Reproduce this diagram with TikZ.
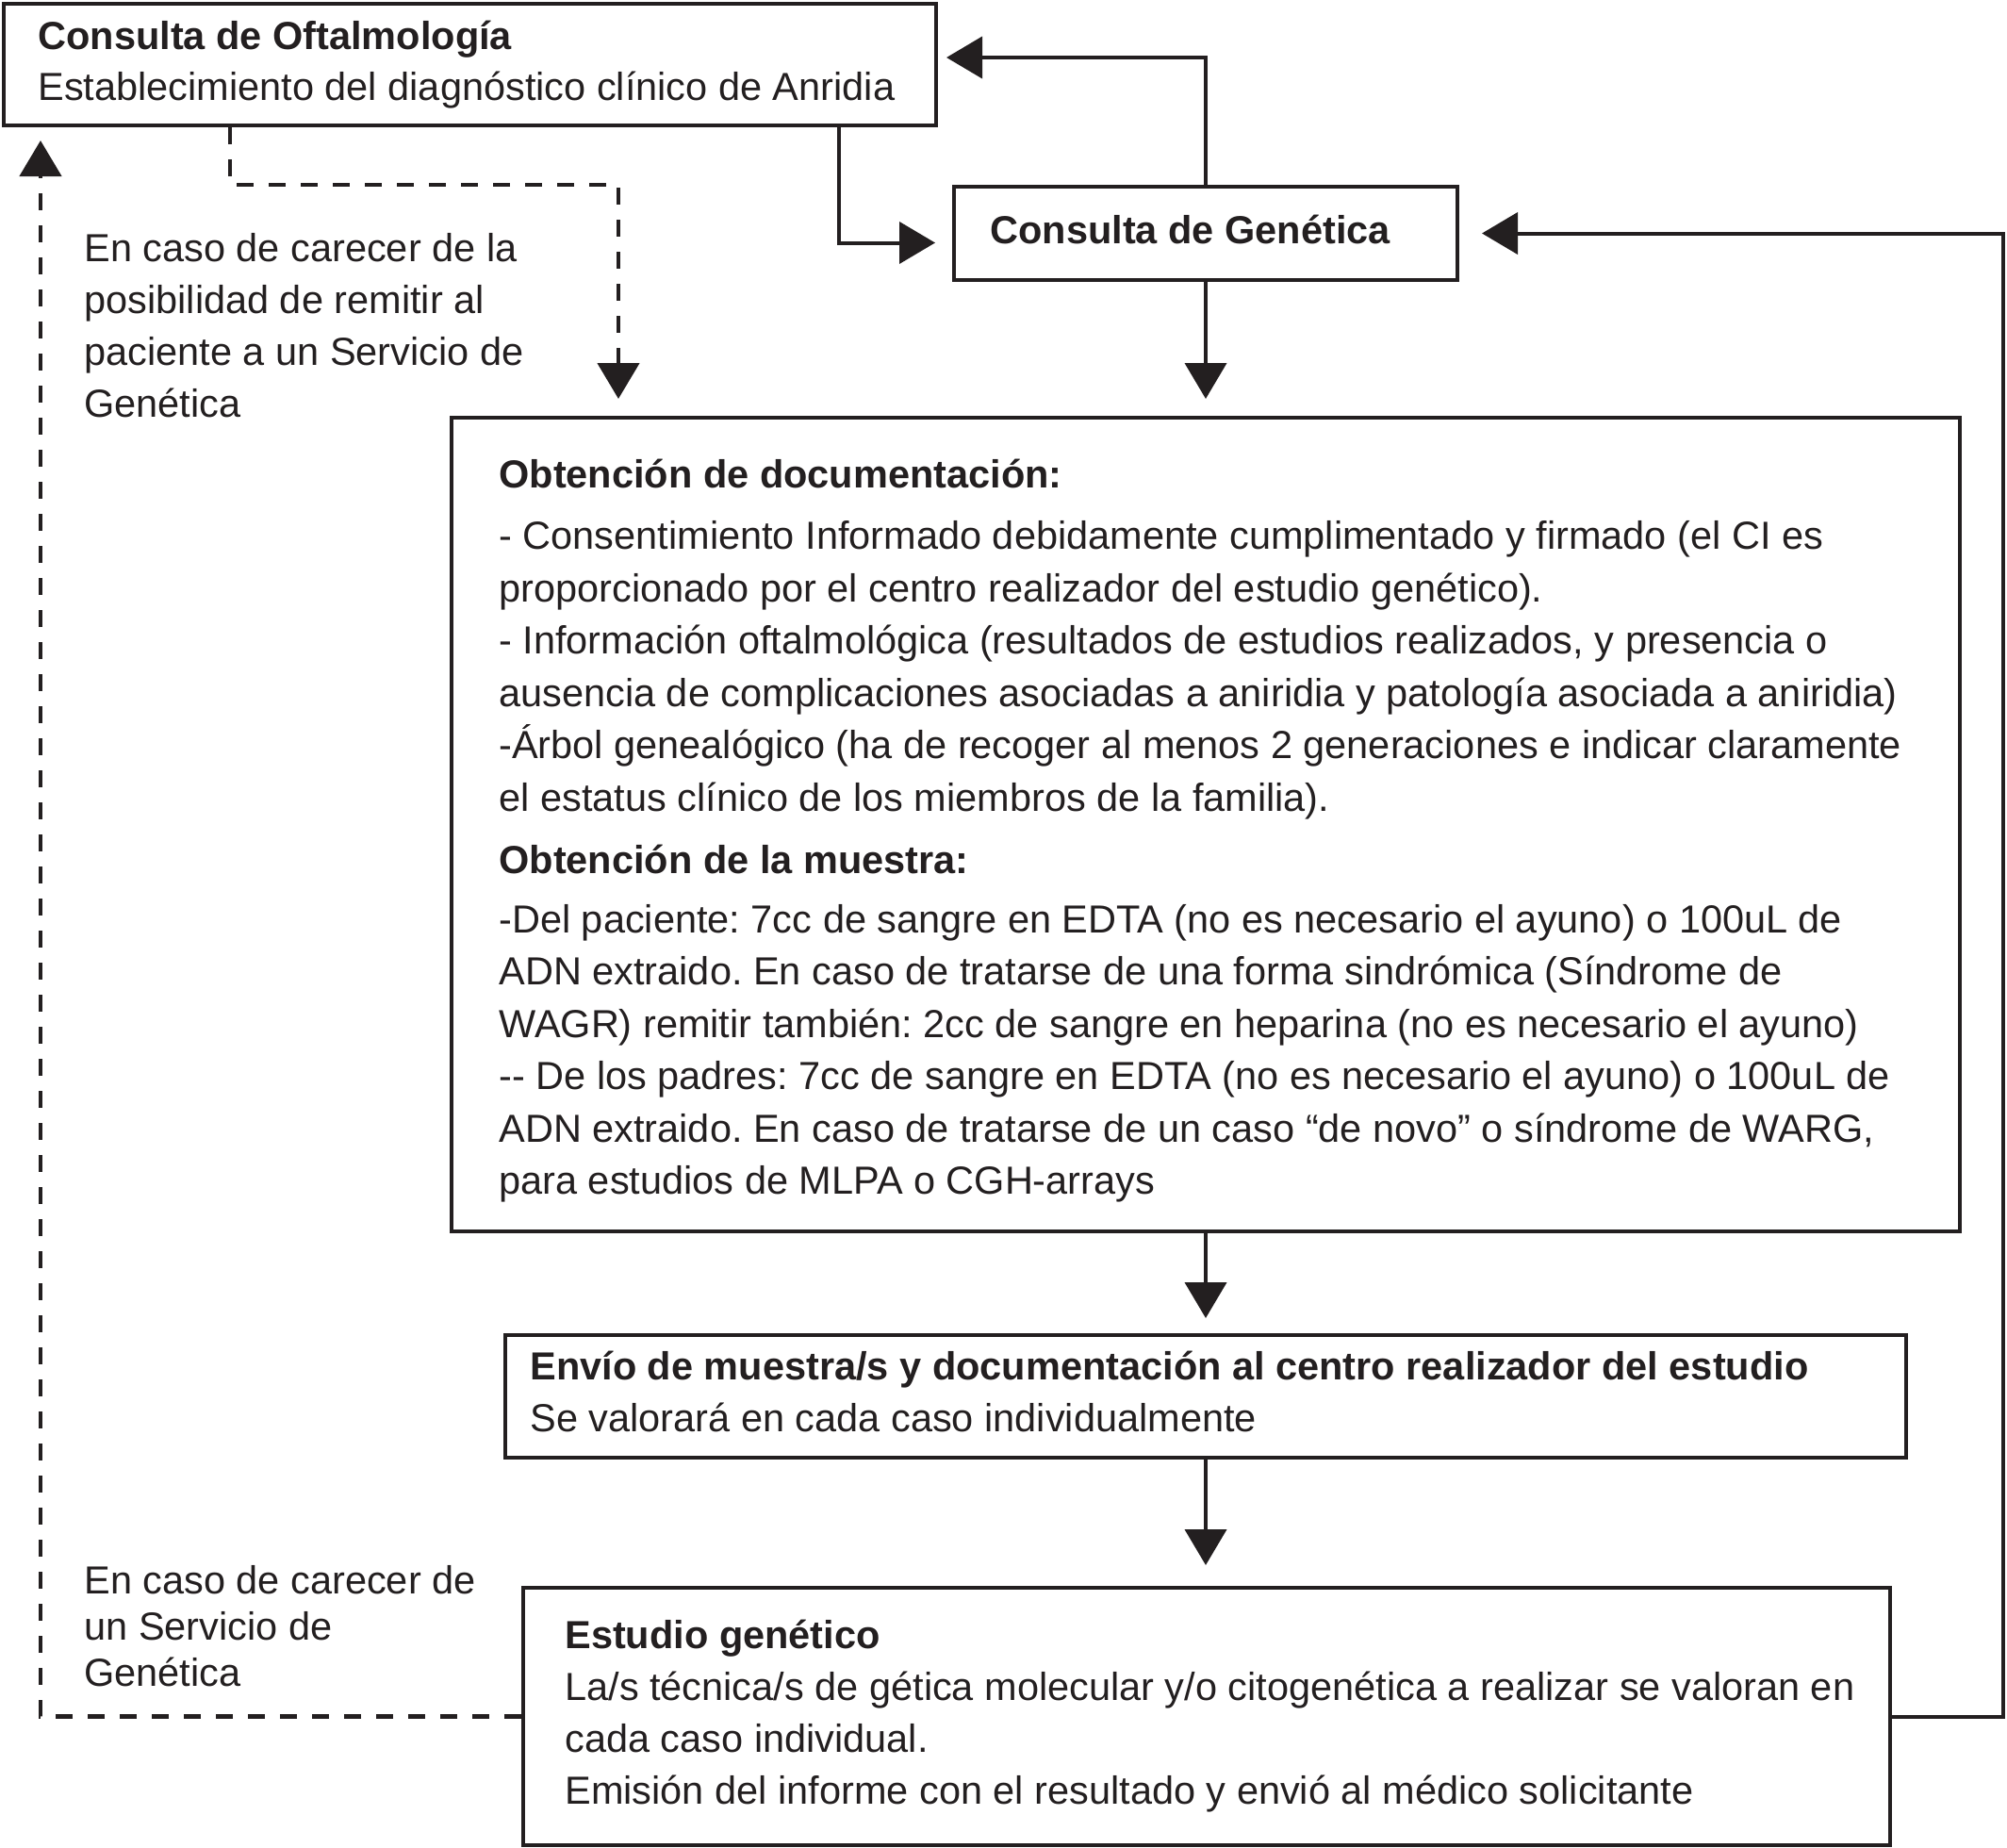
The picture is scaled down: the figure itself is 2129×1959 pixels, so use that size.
\documentclass[tikz,border=0pt]{standalone}
\usepackage{fontspec}
\setmainfont{Liberation Sans}
\usetikzlibrary{arrows.meta,calc}
\definecolor{ink}{RGB}{35,31,32}
\newcommand\fr{\rule{0pt}{20pt}}
\frenchspacing
\begin{document}
\begin{tikzpicture}[x=0.5pt,y=-0.5pt,
  box/.style={draw=ink, line width=2pt, inner sep=0pt, anchor=north west},
  txt/.style={text=ink, inner sep=0pt, anchor=north west, align=left, font=\fontsize{20.75pt}{#1}\selectfont},
  txt/.default=27.75pt,
  conn/.style={draw=ink, line width=2pt, -{Triangle[length=19pt,width=22pt]}},
  dconn/.style={conn, line width=2.4pt, dash pattern=on 9pt off 8pt}]
\useasboundingbox (0,0) rectangle (2129,1959);

% boxes
\node[box, minimum width=494.5pt, minimum height=64.5pt] (oft) at (2,2) {};
\node[box, minimum width=267pt, minimum height=49.5pt] (gen) at (1010,196) {};
\node[box, minimum width=800pt, minimum height=431.5pt] (doc) at (477,441) {};
\node[box, minimum width=743pt, minimum height=65pt] (env) at (534,1414) {};
\node[box, minimum width=725pt, minimum height=136.5pt] (est) at (553,1682) {};

% texts
\node[txt=27pt] (toft) at (40,12) {\fr\textbf{Consulta de Oftalmología}\\
Establecimiento del diagnóstico clínico de Anridia};
\node[txt] (tgen) at (1050,218) {\fr\textbf{Consulta de Genética}};
\node[txt=27.5pt] (tl1) at (89,237) {\fr En caso de carecer de la\\
posibilidad de remitir al\\
paciente a un Servicio de\\
Genética};
\node[txt=24.5pt] (tl2) at (89,1650) {\fr En caso de carecer de\\
un Servicio de\\
Genética};
\node[txt] (tdoc) at (529,477) {\fr\textbf{Obtención de documentación:}\\[5pt]
- Consentimiento Informado debidamente cumplimentado y firmado (el CI es\\
proporcionado por el centro realizador del estudio genético).\\
- Información oftalmológica (resultados de estudios realizados, y presencia o\\
ausencia de complicaciones asociadas a aniridia y patología asociada a aniridia)\\
-Árbol genealógico (ha de recoger al menos 2 generaciones e indicar claramente\\
el estatus clínico de los miembros de la familia).\\[5.5pt]
\textbf{Obtención de la muestra:}\\[3.5pt]
-Del paciente: 7cc de sangre en EDTA (no es necesario el ayuno) o 100uL de\\
ADN extraido. En caso de tratarse de una forma sindrómica (Síndrome de\\
WAGR) remitir también: 2cc de sangre en heparina (no es necesario el ayuno)\\
{-}{-} De los padres: 7cc de sangre en EDTA (no es necesario el ayuno) o 100uL de\\
ADN extraido. En caso de tratarse de un caso “de novo” o síndrome de WARG,\\
para estudios de MLPA o CGH-arrays};
\node[txt=27.5pt] (tenv) at (562,1423) {\fr\textbf{Envío de muestra/s y documentación al centro realizador del estudio}\\
Se valorará en cada caso individualmente};
\node[txt=27.5pt] (test) at (599,1708) {\fr\textbf{Estudio genético}\\
La/s técnica/s de gética molecular y/o citogenética a realizar se valoran en\\
cada caso individual.\\
Emisión del informe con el resultado y envió al médico solicitante};

% connectors
\draw[conn] (gen.north) |- ([shift={(9,59)}]oft.north east);
\draw[conn] ([xshift=444pt]oft.south west) |- ([shift={(-18,10)}]gen.west);
\draw[conn, shorten >=9pt] (gen.south) -- (gen.south |- doc.north);
\draw[conn, shorten >=8pt] (doc.south) -- (doc.south |- env.north);
\draw[conn, shorten >=11pt] (env.south) -- (env.south |- est.north);
\coordinate (rt) at (2125,1000);
\draw[conn, shorten >=12pt] (est.east) -| (rt) |- (gen.east);

\coordinate (d1) at (656,196);
\draw[dconn, shorten >=9pt] ([xshift=121pt]oft.south west) |- (d1) -- (d1 |- doc.north);
\coordinate (lft) at (43,1000);
\draw[dconn, shorten >=7pt] (est.west) -| (lft) -- (lft |- oft.south);
\end{tikzpicture}
\end{document}
